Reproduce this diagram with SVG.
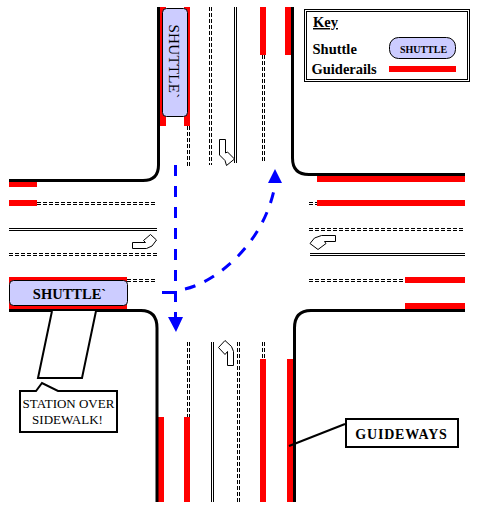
<svg xmlns="http://www.w3.org/2000/svg" width="478" height="506" viewBox="0 0 478 506">
<style>
.curb{fill:none;stroke:#000;stroke-width:3}
.rail{fill:#f00}
.dash{fill:none;stroke:#000;stroke-width:1;stroke-dasharray:4 2}
.solid{fill:none;stroke:#000;stroke-width:1}
.turn{fill:#fff;stroke:#000;stroke-width:1}
.shuttle{fill:#ccf;stroke:#000;stroke-width:1}
.box{fill:#fff;stroke:#000;stroke-width:2}
text{font-family:"Liberation Serif","Times New Roman",serif;fill:#000}
.b{font-weight:bold}
.flow{fill:none;stroke:#00f;stroke-width:3;stroke-dasharray:11 10}
</style>
<rect width="478" height="506" fill="#fff"/>
<g id="guiderails">
<rect class="rail" x="160" y="7" width="6" height="119"/>
<rect class="rail" x="184" y="7" width="6" height="119"/>
<rect class="rail" x="260" y="7" width="6" height="48"/>
<rect class="rail" x="285" y="7" width="6" height="48"/>
<rect class="rail" x="9" y="182" width="28" height="5"/>
<rect class="rail" x="9" y="200" width="28" height="6"/>
<rect class="rail" x="317" y="176" width="148" height="6"/>
<rect class="rail" x="317" y="200" width="148" height="6"/>
<rect class="rail" x="405" y="277" width="60" height="6"/>
<rect class="rail" x="405" y="303" width="60" height="6"/>
<rect class="rail" x="9" y="277" width="118" height="32"/>
<rect class="rail" x="158" y="417" width="6" height="85"/>
<rect class="rail" x="184" y="417" width="6" height="85"/>
<rect class="rail" x="260" y="359" width="6" height="143"/>
<rect class="rail" x="287" y="359" width="6" height="143"/>
</g>
<g id="road-markings">
<path class="dash" d="M187.500 126V166M189.500 126V166M209.500 7V165M211.500 7V165M262.500 55V163M264.500 55V163"/>
<path class="solid" d="M234.500 7V163M236.500 7V163"/>
<path class="dash" d="M37 202.500H157M37 204.500H157M309 202.500H317M309 204.500H317M309 228.500H465M309 230.500H465"/>
<path class="solid" d="M9 228.500H157M9 230.500H157M310 253.500H465M310 255.500H465"/>
<path class="dash" d="M9 253.500H157M9 255.500H157M127 279.500H157M127 281.500H157M309 279.500H405M309 281.500H405"/>
<path class="dash" d="M187.500 342V417M189.500 342V417M262.500 342V359M264.500 342V359M237.500 342V502M239.500 342V502"/>
<path class="solid" d="M211.500 342V502M213.500 342V502"/>
</g>
<g id="turn-arrows">
<path class="turn" d="M219.500 139.500H225.500V153L227.500 152L234.500 159L226.500 165.500L225 160.500L219.500 155Z"/>
<path class="turn" d="M132.500 242.500V248.500H146.500L152 246L156.500 240L150.500 234.500L143.500 240.500L145.500 242.500Z"/>
<path class="turn" d="M335.500 235.500V241.500H324.500L326 243.500L318 249.500L310 243.500L314.500 238L321.500 235.500Z"/>
<path class="turn" d="M227.500 365.500H233.500V351.500L231.500 346.500L225 340.500L218.500 347.500L225 354.500L227.500 351.500Z"/>
</g>
<g id="curbs">
<path class="curb" d="M158.500 7V165Q158.500 180.500 143 180.500H9"/>
<path class="curb" d="M292.500 7V158Q292.500 174.500 309 174.500H465"/>
<path class="curb" d="M9 310.500H141Q157 310.500 157 328V502"/>
<path class="curb" d="M465 310.500H311Q294.500 310.500 294.500 328V502"/>
</g>
<g id="connectors">
<path d="M175.500 165V318" class="flow"/>
<path d="M162 292.500H175.500V300" fill="none" stroke="#00f" stroke-width="3"/>
<path d="M185 289C216 282 262 245 274 190" class="flow"/>
<polygon points="168,317 183,317 176,332" fill="#00f"/>
<polygon points="268,183 282,183 275,169" fill="#00f"/>
<path d="M289 446L345 424" fill="none" stroke="#000" stroke-width="2"/>
</g>
<g id="shuttle-north">
<rect class="shuttle" x="162.500" y="8.500" width="25" height="108" rx="4"/>
<text transform="translate(168.500 61.500) rotate(90)" text-anchor="middle" font-size="15" letter-spacing="0.300">SHUTTLE`</text>
</g>
<g id="shuttle-west">
<rect class="shuttle" x="9.500" y="280.500" width="118" height="25" rx="4"/>
<text class="b" x="69.500" y="299" text-anchor="middle" font-size="14.500">SHUTTLE`</text>
</g>
<g id="station">
<path d="M52 311L38 378H82L96 311" fill="#fff" stroke="#000" stroke-width="2"/>
</g>
<g id="station-callout">
<path class="box" d="M20 391H36L42 383L58 391H117V432H20Z"/>
<text x="68.500" y="408" text-anchor="middle" font-size="13">STATION OVER</text>
<text x="67.500" y="424" text-anchor="middle" font-size="13">SIDEWALK!</text>
</g>
<g id="guideways-label">
<rect class="box" x="346" y="419" width="112" height="28"/>
<text x="401.500" y="439" text-anchor="middle" font-size="14" letter-spacing="0.800" class="b">GUIDEWAYS</text>
</g>
<g id="key">
<rect x="304.500" y="9.500" width="165" height="72" fill="#fff" stroke="#000"/>
<rect x="306.500" y="11.500" width="161" height="68" fill="none" stroke="#000"/>
<text class="b" x="313" y="27" font-size="14.500" text-decoration="underline">Key</text>
<text class="b" x="312.500" y="54" font-size="14.500">Shuttle</text>
<text class="b" x="311.500" y="74" font-size="14.500">Guiderails</text>
<rect class="shuttle" x="389.500" y="37.500" width="66" height="21" rx="9"/>
<text class="b" x="423.500" y="53" text-anchor="middle" font-size="10">SHUTTLE</text>
<rect class="rail" x="389" y="66" width="67" height="6"/>
</g>
</svg>
